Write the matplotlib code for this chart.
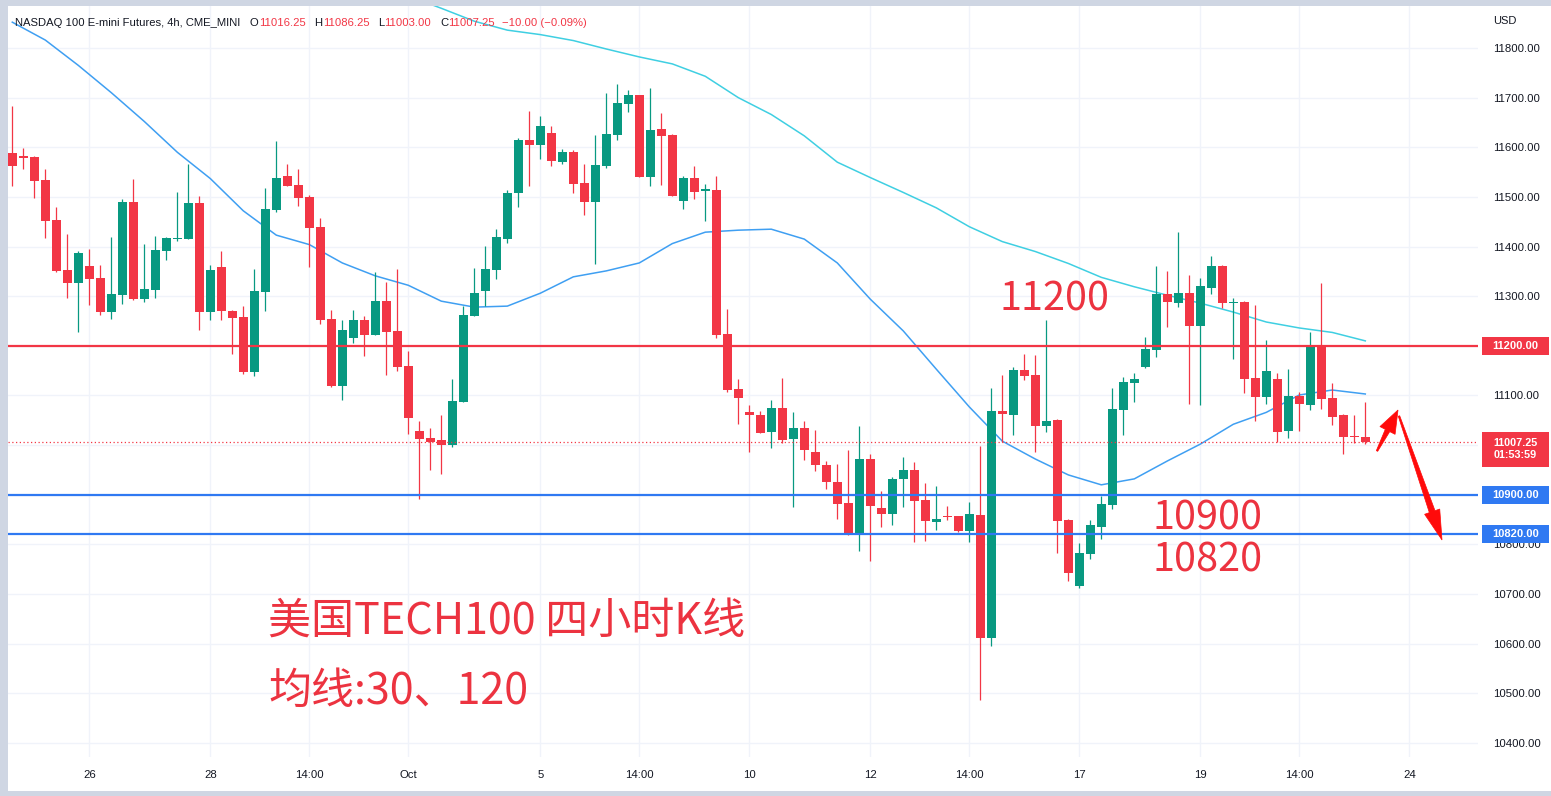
import matplotlib
matplotlib.use('Agg')
import matplotlib.pyplot as plt
from matplotlib.patches import Rectangle, Polygon
import numpy as np

W, H = 1551, 796

# ---------------- data ----------------
opens = [11588, 11582, 11580, 11534, 11453, 11353, 11327, 11361, 11337, 11269,
         11303, 11490, 11295, 11313, 11392, 11416, 11416, 11488, 11269, 11359,
         11271, 11258, 11148, 11309, 11474, 11542, 11524, 11500, 11439, 11254,
         11119, 11216, 11252, 11222, 11290, 11230, 11159, 11028, 11014, 11010,
         11000, 11087, 11261, 11311, 11353, 11416, 11507, 11615, 11605, 11629,
         11571, 11590, 11528, 11490, 11563, 11625, 11687, 11705, 11541, 11637,
         11625, 11492, 11538, 11512, 11514, 11224, 11113, 11066, 11061, 11027,
         11075, 11013, 11035, 10986, 10960, 10925, 10884, 10820, 10972, 10874,
         10862, 10931, 10950, 10889, 10846, 10858, 10857, 10828, 10859, 10612,
         11068, 11061, 11151, 11141, 11039, 11051, 10849, 10717, 10781, 10836,
         10879, 11071, 11125, 11157, 11192, 11304, 11286, 11306, 11239, 11316,
         11361, 11286, 11289, 11135, 11096, 11133, 11029, 11099, 11081, 11202,
         11095, 11061, 11017, 11016.25]
highs = [11683, 11599, 11582, 11556, 11480, 11425, 11391, 11395, 11363, 11419,
         11496, 11536, 11405, 11421, 11420, 11510, 11566, 11502, 11363, 11391,
         11273, 11281, 11355, 11518, 11613, 11566, 11556, 11503, 11458, 11272,
         11252, 11272, 11260, 11349, 11329, 11355, 11190, 11049, 11034, 11061,
         11133, 11280, 11357, 11401, 11435, 11514, 11618, 11673, 11663, 11643,
         11597, 11595, 11566, 11625, 11709, 11727, 11715, 11706, 11720, 11669,
         11627, 11542, 11562, 11526, 11542, 11274, 11133, 11081, 11068, 11091,
         11135, 11066, 11049, 11030, 10968, 10962, 10990, 11038, 10983, 10908,
         10936, 10976, 10965, 10923, 10918, 10877, 10858, 10885, 10999, 11115,
         11141, 11157, 11184, 11182, 11252, 11053, 10851, 10803, 10849, 10897,
         11115, 11137, 11145, 11218, 11361, 11351, 11429, 11343, 11336, 11381,
         11363, 11296, 11291, 11282, 11212, 11145, 11153, 11107, 11228, 11327,
         11125, 11063, 11061, 11086.25]
lows = [11521, 11556, 11498, 11418, 11349, 11297, 11228, 11283, 11263, 11255,
        11285, 11293, 11289, 11297, 11373, 11412, 11416, 11232, 11253, 11253,
        11184, 11144, 11140, 11270, 11470, 11521, 11482, 11359, 11243, 11118,
        11091, 11206, 11180, 11222, 11142, 11150, 11023, 10891, 10950, 10942,
        10997, 11087, 11261, 11281, 11335, 11408, 11480, 11523, 11577, 11563,
        11567, 11508, 11464, 11365, 11559, 11615, 11671, 11540, 11522, 11524,
        11501, 11476, 11496, 11451, 11216, 11108, 11043, 10986, 11024, 10995,
        11004, 10876, 10971, 10948, 10912, 10852, 10819, 10787, 10767, 10835,
        10840, 10875, 10805, 10807, 10830, 10850, 10824, 10804, 10486, 10596,
        11007, 11021, 11131, 10987, 11027, 10783, 10727, 10713, 10771, 10810,
        10872, 11021, 11087, 11156, 11178, 11237, 11278, 11083, 11081, 11305,
        11277, 11174, 11104, 11049, 11083, 11007, 11015, 11029, 11071, 11073,
        11041, 10983, 11004, 11003.00]
closes = [11563, 11579, 11533, 11452, 11351, 11327, 11387, 11335, 11269, 11304,
          11490, 11295, 11314, 11393, 11417, 11418, 11488, 11269, 11353, 11271,
          11257, 11148, 11310, 11476, 11538, 11523, 11498, 11438, 11253, 11119,
          11232, 11252, 11222, 11290, 11228, 11158, 11055, 11013, 11006, 11000,
          11089, 11262, 11306, 11355, 11419, 11508, 11615, 11605, 11643, 11573,
          11590, 11527, 11490, 11564, 11627, 11689, 11705, 11541, 11635, 11623,
          11502, 11538, 11510, 11515, 11222, 11111, 11094, 11061, 11025, 11075,
          11011, 11035, 10991, 10959, 10925, 10882, 10820, 10972, 10878, 10862,
          10932, 10950, 10888, 10848, 10851, 10856, 10828, 10861, 10612, 11068,
          11063, 11151, 11139, 11039, 11049, 10848, 10743, 10783, 10839, 10881,
          11073, 11127, 11133, 11194, 11304, 11288, 11306, 11239, 11320, 11361,
          11287, 11289, 11134, 11096, 11149, 11027, 11099, 11083, 11202, 11093,
          11057, 11017, 11016, 11007.25]

ma30_idx = list(range(0, 124, 3))
ma30 = [11852, 11816, 11765, 11710, 11652, 11590, 11537, 11472, 11423, 11404,
        11367, 11341, 11322, 11290, 11278, 11280, 11306, 11339, 11351, 11367,
        11406, 11429, 11433, 11435, 11415, 11367, 11294, 11230, 11153, 11077,
        11008, 10972, 10940, 10920, 10932, 10968, 11002, 11042, 11066, 11101,
        11111, 11103]
ma120_idx = [36] + list(range(39, 124, 3))
ma120 = [11905, 11880, 11854, 11836, 11827, 11815, 11798, 11782, 11768, 11743,
         11700, 11666, 11623, 11570, 11539, 11509, 11478, 11440, 11410, 11390,
         11366, 11338, 11319, 11302, 11286, 11268, 11248, 11236, 11227, 11210]

time_tick_pos = [7, 18, 27, 36, 48, 57, 67, 78, 87, 97, 108, 117, 127]
time_tick_labels = ['26', '28', '14:00', 'Oct', '5', '14:00', '10', '12',
                    '14:00', '17', '19', '14:00', '24']
price_ticks = list(range(10400, 11801, 100))
hidden_price_labels = [11000]   # covered by the last-price tag

resistance = 11200
supports = [10900, 10820]
last_price = 11007.25
countdown = '01:53:59'

header_title = 'NASDAQ 100 E-mini Futures, 4h, CME_MINI'
header_vals = [('O', '11016.25'), ('H', '11086.25'), ('L', '11003.00'),
               ('C', '11007.25')]
header_change = '\u221210.00 (\u22120.09%)'

caption1 = '美国TECH100 四小时K线'
caption2 = '均线:30、120'

# ---------------- styling ----------------
UP = '#089981'
DOWN = '#f23645'
TXT = '#131722'
BLUE = '#2f79f2'
ANN = '#ec3340'

plt.rcParams['font.family'] = ['Liberation Sans', 'DejaVu Sans']

fig = plt.figure(figsize=(W / 100, H / 100), dpi=100, facecolor='#cfd6e3')


def fx(x):
    return x / W


def fy(y):
    return 1 - y / H


# white panel
bg = fig.add_axes([fx(8), fy(791), (W - 8) / W, (791 - 6) / H])
bg.set_facecolor('white')
bg.set_xticks([])
bg.set_yticks([])
for s in bg.spines.values():
    s.set_visible(False)

# main chart axes
ax = fig.add_axes([fx(8), fy(757), (1478 - 8) / W, (757 - 6) / H])
ax.set_facecolor('none')
ax.set_xlim((8 - 12.3) / 11, (1478 - 12.3) / 11)
ax.set_ylim(11800 - (757 - 48) / 0.4964, 11800 + 42 / 0.4964)
for s in ax.spines.values():
    s.set_visible(False)

ax.yaxis.tick_right()
ax.set_yticks(price_ticks)
ax.set_yticklabels(['' if p in hidden_price_labels else f'{p:.2f}' for p in price_ticks])
ax.tick_params(axis='y', length=0, pad=11, labelsize=8.2, labelcolor=TXT)
ax.set_xticks(time_tick_pos)
ax.set_xticklabels(time_tick_labels)
ax.tick_params(axis='x', length=0, pad=9, labelsize=8.2, labelcolor=TXT)
ax.grid(True, color='#f0f3fa', lw=1.0, zorder=0)
ax.set_axisbelow(True)

# candles
x = np.arange(len(opens))
o = np.array(opens, float)
h = np.array(highs, float)
l = np.array(lows, float)
c = np.array(closes, float)
cols = [UP if cc >= oo else DOWN for oo, cc in zip(o, c)]
ax.vlines(x, l, h, colors=cols, lw=0.9, zorder=3)
bottoms = np.minimum(o, c)
heights = np.maximum(np.abs(c - o), 2.2)
ax.bar(x, heights, bottom=bottoms, width=0.78, color=cols, lw=0, zorder=4)

# moving averages
ax.plot(ma30_idx, ma30, color='#3f9ff2', lw=1.1, zorder=2.8)
ax.plot(ma120_idx, ma120, color='#3fcfe2', lw=1.1, zorder=2.8)

# horizontal levels
ax.axhline(resistance, color=DOWN, lw=1.6, zorder=5)
for s in supports:
    ax.axhline(s, color=BLUE, lw=1.6, zorder=5)
ax.axhline(last_price, color=DOWN, lw=0.9, ls=(0, (1, 2)), zorder=5)


def y_of(p):
    return 48 + (11800 - p) * 0.4964


# price tags on the scale
def tag(p, color, label, h=18):
    yc = y_of(p)
    fig.add_artist(Rectangle((fx(1482), fy(yc + h / 2)), (1549 - 1482) / W, h / H,
                             transform=fig.transFigure, facecolor=color,
                             edgecolor='none', zorder=5))
    fig.text(fx(1515.5), fy(yc), label, color='white', fontsize=8.0,
             fontweight='bold', ha='center', va='center', zorder=6)


tag(resistance, DOWN, f'{resistance:.2f}')
for s in supports:
    tag(s, BLUE, f'{s:.2f}')
# last price with countdown (one two-line label)
fig.add_artist(Rectangle((fx(1482), fy(467)), (1549 - 1482) / W, (467 - 432) / H,
                         transform=fig.transFigure, facecolor=DOWN,
                         edgecolor='none', zorder=5))
fig.text(fx(1515.5), fy(449.5), f'{last_price:.2f}\n{countdown}', color='white',
         fontsize=7.8, fontweight='bold', ha='center', va='center',
         linespacing=1.25, zorder=6)

fig.text(fx(1493), fy(21), 'USD', color=TXT, fontsize=8.0, ha='left', va='center')

# header legend
HF = 8.1
fig.text(fx(15), fy(23), header_title, color=TXT, fontsize=HF, ha='left', va='center')
hx = [(250, 259), (314, 323), (378, 384), (440, 448)]
for (k, v), (xk, xv) in zip(header_vals, hx):
    fig.text(fx(xk), fy(23), k, color=TXT, fontsize=HF, ha='left', va='center')
    fig.text(fx(xv), fy(23), v, color=DOWN, fontsize=HF, ha='left', va='center')
fig.text(fx(502), fy(23), header_change, color=DOWN, fontsize=HF, ha='left', va='center')

# annotations
cjk = ['Noto Sans CJK SC', 'DejaVu Sans']
NF = 28.5
fig.text(fx(999), fy(311), f'{resistance}', color=ANN, fontsize=NF,
         family=cjk, ha='left', va='baseline')
fig.text(fx(1153), fy(530), f'{supports[0]}', color=ANN, fontsize=NF,
         family=cjk, ha='left', va='baseline')
fig.text(fx(1153), fy(572), f'{supports[1]}', color=ANN, fontsize=NF,
         family=cjk, ha='left', va='baseline')
fig.text(fx(268), fy(634), caption1, color=ANN, fontsize=31,
         family=cjk, ha='left', va='baseline')
fig.text(fx(268), fy(704), caption2, color=ANN, fontsize=31,
         family=cjk, ha='left', va='baseline')


# hand-drawn style arrows
def arrow(tail, tip, w0, w1, wh, hl, color='#ff0a0a'):
    T = np.array(tail, float)
    P = np.array(tip, float)
    d = (P - T) / np.linalg.norm(P - T)
    n = np.array([-d[1], d[0]])
    B = P - d * hl
    pts = [T + n * w0 / 2, B + n * w1 / 2, B + n * wh / 2, P,
           B - n * wh / 2, B - n * w1 / 2, T - n * w0 / 2]
    pts = [(fx(px), fy(py)) for px, py in pts]
    fig.add_artist(Polygon(pts, closed=True, transform=fig.transFigure,
                           facecolor=color, edgecolor=color, lw=0.5, zorder=7))


arrow((1377, 451), (1398, 410), 1.5, 5, 17, 23)
arrow((1399, 416), (1442, 540), 1.5, 6, 16, 30)

fig.savefig('out.png', dpi=100, facecolor=fig.get_facecolor())
